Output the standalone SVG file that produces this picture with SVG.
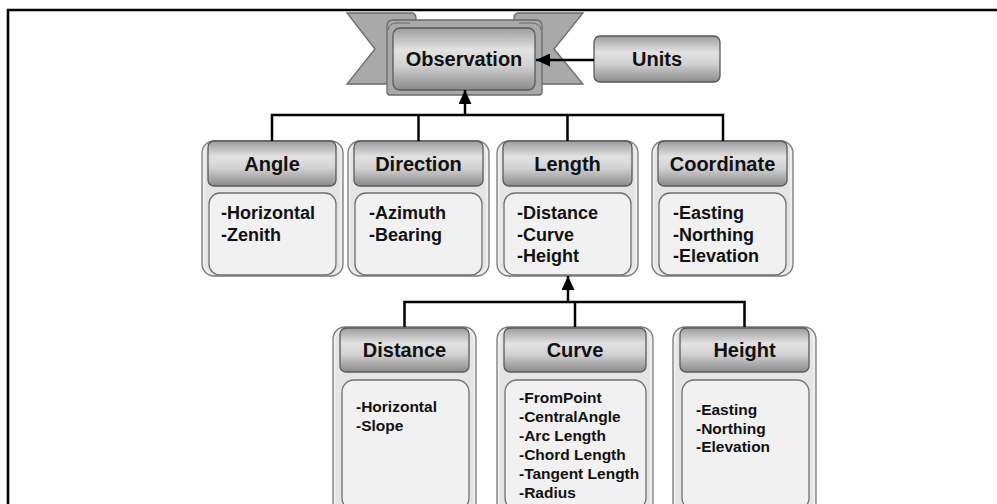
<svg xmlns="http://www.w3.org/2000/svg" width="997" height="504" viewBox="0 0 997 504">
  <defs>
    <linearGradient id="bar" x1="0" y1="0" x2="0" y2="1">
      <stop offset="0" stop-color="#9c9c9c"/>
      <stop offset="0.35" stop-color="#e2e2e2"/>
      <stop offset="0.6" stop-color="#d2d2d2"/>
      <stop offset="1" stop-color="#8a8a8a"/>
    </linearGradient>
    <marker id="head" markerUnits="userSpaceOnUse" markerWidth="15" markerHeight="13" refX="14" refY="6.5" orient="auto">
      <path d="M0,0 L14,6.5 L0,13 Z" fill="#000"/>
    </marker>
    <style>
      .frame { stroke: #000; stroke-width: 2.6; fill: none; }
      .shell { fill: #e5e5e5; stroke: #7b7b7b; stroke-width: 1.3; }
      .shell-in { fill: none; stroke: #f7f7f7; stroke-width: 1; }
      .hdr { fill: url(#bar); stroke: #5a5a5a; stroke-width: 1.3; }
      .body { fill: #f1f1f1; stroke: #707070; stroke-width: 1.3; }
      .ribbon { fill: #a9a9a9; stroke: #6a6a6a; stroke-width: 1.3; }
      .wire { stroke: #000; stroke-width: 2.5; fill: none; }
      .title { font-family: "Liberation Sans", Arial, sans-serif; font-weight: bold; font-size: 20px; fill: #111; text-anchor: middle; }
      .item { font-family: "Liberation Sans", Arial, sans-serif; font-weight: bold; font-size: 18px; fill: #111; }
      .item-s { font-family: "Liberation Sans", Arial, sans-serif; font-weight: bold; font-size: 15.5px; fill: #111; }
    </style>
  </defs>

  <rect width="997" height="504" fill="#fff"/>
  <!-- page frame -->
  <path class="frame" d="M8,504 V10 H997"/>

  <!-- Observation banner -->
  <g id="observation">
    <path class="ribbon" d="M347,13 H411 Q416,13 416,18 V84 H347 L375,49 Z"/>
    <path class="ribbon" d="M583,13 H519 Q514,13 514,18 V84 H583 L554,49 Z"/>
    <path class="ribbon" d="M387,92 V26 Q387,20 393,20 H536 Q542,20 542,26 V92 Q542,95 539,95 H390 Q387,95 387,92 Z"/>
    <path d="M388,30 Q389,23 397,23 H410" fill="none" stroke="#6a6a6a" stroke-width="1"/>
    <path d="M541,30 Q540,23 532,23 H519" fill="none" stroke="#6a6a6a" stroke-width="1"/>
    <rect class="hdr" x="393" y="28" width="142" height="62" rx="7"/>
    <text class="title" x="464" y="66">Observation</text>
  </g>

  <g id="units">
    <rect class="hdr" x="594" y="36" width="126" height="46" rx="6"/>
    <text class="title" x="657" y="66">Units</text>
  </g>

  <!-- top row -->
  <g id="angle">
    <rect class="shell" x="202" y="141" width="141" height="135" rx="12"/>
    <rect class="shell-in" x="204" y="143" width="137" height="131" rx="10"/>
    <rect class="hdr" x="208" y="141" width="128" height="45" rx="6"/>
    <rect class="body" x="209" y="193" width="127" height="82" rx="11"/>
    <text class="title" x="272" y="171">Angle</text>
    <text class="item" x="221" y="219">-Horizontal</text>
    <text class="item" x="221" y="241">-Zenith</text>
  </g>

  <g id="direction">
    <rect class="shell" x="348" y="141" width="141" height="135" rx="12"/>
    <rect class="shell-in" x="350" y="143" width="137" height="131" rx="10"/>
    <rect class="hdr" x="354" y="141" width="129" height="45" rx="6"/>
    <rect class="body" x="355" y="193" width="127" height="82" rx="11"/>
    <text class="title" x="418.5" y="171">Direction</text>
    <text class="item" x="369" y="219">-Azimuth</text>
    <text class="item" x="369" y="241">-Bearing</text>
  </g>

  <g id="length">
    <rect class="shell" x="497" y="141" width="141" height="135" rx="12"/>
    <rect class="shell-in" x="499" y="143" width="137" height="131" rx="10"/>
    <rect class="hdr" x="503" y="141" width="129" height="45" rx="6"/>
    <rect class="body" x="504" y="193" width="127" height="82" rx="11"/>
    <text class="title" x="567.5" y="171">Length</text>
    <text class="item" x="517" y="219">-Distance</text>
    <text class="item" x="517" y="241">-Curve</text>
    <text class="item" x="517" y="262">-Height</text>
  </g>

  <g id="coordinate">
    <rect class="shell" x="652" y="141" width="141" height="135" rx="12"/>
    <rect class="shell-in" x="654" y="143" width="137" height="131" rx="10"/>
    <rect class="hdr" x="658" y="141" width="129" height="45" rx="6"/>
    <rect class="body" x="659" y="193" width="127" height="82" rx="11"/>
    <text class="title" x="722.5" y="171">Coordinate</text>
    <text class="item" x="673" y="219">-Easting</text>
    <text class="item" x="673" y="241">-Northing</text>
    <text class="item" x="673" y="262">-Elevation</text>
  </g>

  <!-- bottom row -->
  <g id="distance">
    <rect class="shell" x="333" y="327" width="143" height="190" rx="12"/>
    <rect class="shell-in" x="335" y="329" width="139" height="186" rx="10"/>
    <rect class="hdr" x="340" y="328" width="129" height="44" rx="6"/>
    <rect class="body" x="342" y="380" width="127" height="130" rx="12"/>
    <text class="title" x="404.5" y="357">Distance</text>
    <text class="item-s" x="356" y="412">-Horizontal</text>
    <text class="item-s" x="356" y="430.5">-Slope</text>
  </g>

  <g id="curve">
    <rect class="shell" x="497" y="327" width="156" height="190" rx="12"/>
    <rect class="shell-in" x="499" y="329" width="152" height="186" rx="10"/>
    <rect class="hdr" x="504" y="328" width="142" height="44" rx="6"/>
    <rect class="body" x="505" y="380" width="141" height="130" rx="12"/>
    <text class="title" x="575" y="357">Curve</text>
    <text class="item-s" x="519" y="403">-FromPoint</text>
    <text class="item-s" x="519" y="422">-CentralAngle</text>
    <text class="item-s" x="519" y="441">-Arc Length</text>
    <text class="item-s" x="519" y="460">-Chord Length</text>
    <text class="item-s" x="519" y="479">-Tangent Length</text>
    <text class="item-s" x="519" y="498">-Radius</text>
  </g>

  <g id="height">
    <rect class="shell" x="673" y="327" width="143" height="190" rx="12"/>
    <rect class="shell-in" x="675" y="329" width="139" height="186" rx="10"/>
    <rect class="hdr" x="680" y="328" width="129" height="44" rx="6"/>
    <rect class="body" x="682" y="380" width="127" height="130" rx="12"/>
    <text class="title" x="744.5" y="357">Height</text>
    <text class="item-s" x="696" y="415">-Easting</text>
    <text class="item-s" x="696" y="433.5">-Northing</text>
    <text class="item-s" x="696" y="452">-Elevation</text>
  </g>

  <!-- connectors, drawn over the shapes so the arrowheads stay visible -->
  <g id="connectors">
    <line class="wire" x1="594" y1="60" x2="536" y2="60" marker-end="url(#head)"/>
    <path class="wire" d="M272,141 V115 H723 V141"/>
    <line class="wire" x1="418.5" y1="115" x2="418.5" y2="141"/>
    <line class="wire" x1="567.5" y1="115" x2="567.5" y2="141"/>
    <line class="wire" x1="465" y1="115" x2="465" y2="90" marker-end="url(#head)"/>
    <path class="wire" d="M404.5,327 V302 H744.5 V327"/>
    <line class="wire" x1="575" y1="302" x2="575" y2="327"/>
    <line class="wire" x1="568" y1="302" x2="568" y2="276" marker-end="url(#head)"/>
  </g>
</svg>
